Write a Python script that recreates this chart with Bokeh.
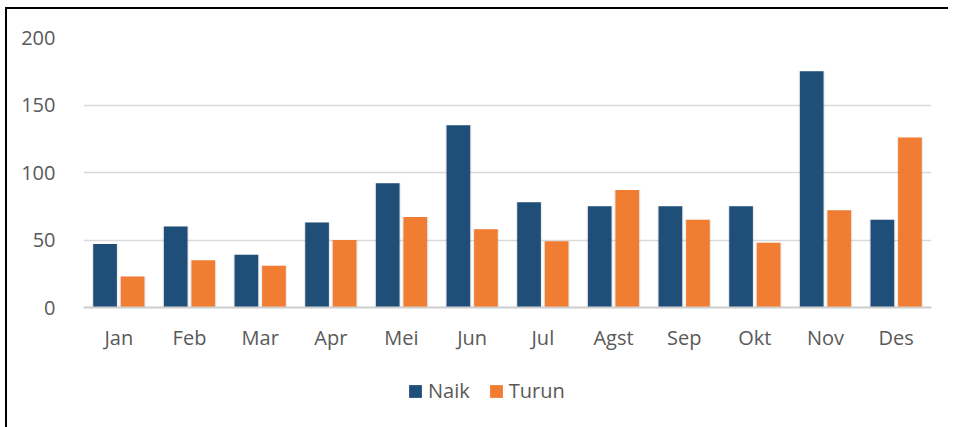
from bokeh.plotting import figure
from bokeh.models import ColumnDataSource, FixedTicker, Legend, LegendItem, Span
from bokeh.core.properties import value
from bokeh.transform import dodge
from bokeh.embed import file_html
from bokeh.resources import INLINE

months = ["Jan", "Feb", "Mar", "Apr", "Mei", "Jun", "Jul", "Agst", "Sep", "Okt", "Nov", "Des"]
naik = [47, 60, 39, 63, 92, 135, 78, 75, 75, 75, 175, 65]
turun = [23, 35, 31, 50, 67, 58, 49, 87, 65, 48, 72, 126]
y_ticks = [0, 50, 100, 150, 200]

NAIK_COLOR = "#1F4E79"
TURUN_COLOR = "#F07D31"
TEXT_COLOR = "#595959"
FONT = "Open Sans"

src = ColumnDataSource(dict(month=months, naik=naik, turun=turun, base=[0] * len(months)))

# frame extends below the zero line to host the category labels and legend
p = figure(x_range=months, y_range=(-82.2, 200), frame_width=848, frame_height=381,
           output_backend="svg", toolbar_location=None,
           min_border_left=76, min_border_top=28, min_border_right=17, min_border_bottom=9)
p.styles = {"border-top": "2px solid #000000", "border-left": "2px solid #000000",
            "margin-top": "7px", "margin-left": "5px"}
p.outline_line_color = None
p.background_fill_color = "white"

# soft shadows
p.vbar(x=dodge("month", -0.195, range=p.x_range), top="naik", width=0.37, bottom=0,
       source=src, fill_color="#000000", fill_alpha=0.08, line_color=None)
p.vbar(x=dodge("month", 0.195, range=p.x_range), top="turun", width=0.37, bottom=0,
       source=src, fill_color="#000000", fill_alpha=0.08, line_color=None)

r1 = p.vbar(x=dodge("month", -0.195, range=p.x_range), top="naik", width=0.335, bottom=0,
            source=src, fill_color=NAIK_COLOR, line_color=None)
r2 = p.vbar(x=dodge("month", 0.195, range=p.x_range), top="turun", width=0.335, bottom=0,
            source=src, fill_color=TURUN_COLOR, line_color=None)

p.xgrid.grid_line_color = None
p.ygrid.grid_line_color = "#D9D9D9"
p.ygrid.grid_line_width = 1.5
p.yaxis.ticker = FixedTicker(ticks=y_ticks)
p.add_layout(Span(location=0, dimension="width", line_color="#D0D0D0", line_width=2))

p.yaxis.major_tick_line_color = None
p.yaxis.minor_tick_line_color = None
p.yaxis.major_label_text_font = FONT
p.yaxis.major_label_text_font_size = "20px"
p.yaxis.major_label_text_color = TEXT_COLOR
p.yaxis.axis_line_color = None
p.yaxis.major_label_standoff = 22
p.xaxis.visible = False

# category labels under the zero line
p.text(x="month", y="base", text="month", source=src, y_offset=30,
       text_font=value(FONT), text_font_size="20px", text_color=TEXT_COLOR,
       text_align="center", text_baseline="middle")

legend = Legend(items=[LegendItem(label="Naik", renderers=[r1]),
                       LegendItem(label="Turun", renderers=[r2])],
                orientation="horizontal", location=(324, 14))
legend.label_text_font = FONT
legend.label_text_font_size = "20px"
legend.label_text_color = TEXT_COLOR
legend.glyph_width = 16
legend.glyph_height = 16
legend.label_height = 16
legend.label_standoff = 5
legend.spacing = 18
legend.padding = 0
legend.margin = 0
legend.border_line_color = None
legend.background_fill_alpha = 0
p.add_layout(legend, "center")

open("out.html", "w").write(file_html(p, INLINE))
